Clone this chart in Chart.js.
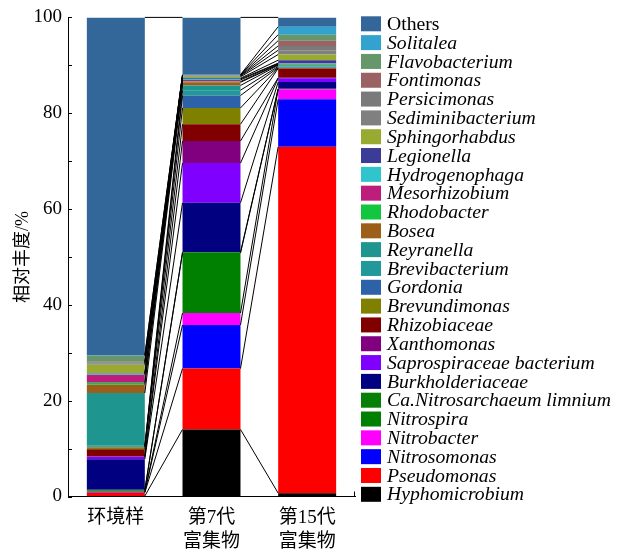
<!DOCTYPE html>
<html>
<head>
<meta charset="utf-8">
<script src="https://cdn.jsdelivr.net/npm/chart.js@4.4.1/dist/chart.umd.min.js"></script>
<style>
  html, body { margin: 0; padding: 0; background: #fff; }
  #wrap { position: relative; width: 623px; height: 554px; }
</style>
</head>
<body>
<div id="wrap"><canvas id="abundance"></canvas></div>
<script>
// samples (x categories)
const samples = [["环境样"], ["第7代", "富集物"], ["第15代", "富集物"]];

// taxa, stacked from bottom to top
const taxa = [
  "Hyphomicrobium", "Pseudomonas", "Nitrosomonas", "Nitrobacter", "Nitrospira",
  "Ca.Nitrosarchaeum limnium", "Burkholderiaceae", "Saprospiraceae bacterium",
  "Xanthomonas", "Rhizobiaceae", "Brevundimonas", "Gordonia", "Brevibacterium",
  "Reyranella", "Bosea", "Rhodobacter", "Mesorhizobium", "Hydrogenophaga",
  "Legionella", "Sphingorhabdus", "Sediminibacterium", "Persicimonas",
  "Fontimonas", "Flavobacterium", "Solitalea", "Others"
];

const taxaColors = [
  "#000000", "#ff0000", "#0000ff", "#ff00ff", "#008000",
  "#057f05", "#000080", "#8000ff",
  "#800080", "#800000", "#808000", "#2d62a8", "#21999a",
  "#1f9590", "#9c5f1a", "#12c73f", "#bd1e7b", "#30c5cc",
  "#3b3b98", "#98ab30", "#808080", "#7a7a7a",
  "#9a6262", "#65976a", "#33a2cf", "#336699"
];

// relative abundance (%) per sample, same order as taxa
const envSample = [0.1, 0.7, 0.1, 0.1, 0.3, 0.1, 6.4, 0.5, 0.05, 1.5, 0.45, 0.1, 0.2,
                   11.0, 1.75, 0.4, 1.65, 0.2, 0.1, 1.8, 0.3, 0.2, 0.1, 1.3, 0.05, 70.55];
const gen7 = [14.0, 12.7, 9.1, 2.5, 12.5, 0.2, 10.3, 8.3, 4.6, 3.5, 3.4, 2.6, 1.1,
              1.0, 0.65, 0.15, 0.35, 0.2, 0.15, 0.3, 0.15, 0.1, 0.05, 0.1, 0.05, 11.95];
const gen15 = [0.7, 72.3, 9.9, 2.1, 0.05, 0.05, 1.4, 0.8, 0.1, 1.95, 0.1, 0.1, 0.2,
               0.25, 0.1, 0.15, 0.1, 0.1, 0.62, 1.18, 0.9, 0.9, 1.1, 1.25, 1.66, 1.94];

const yTicks = { min: 0, max: 100, step: 10, labelEvery: 20 };

const serif = "'Liberation Serif', 'Times New Roman', 'Noto Sans CJK SC', serif";

// black lines joining each layer boundary between neighbouring bars
const connectLines = {
  id: "connectLines",
  afterDatasetsDraw(chart) {
    const ctx = chart.ctx;
    const n = chart.data.datasets.length;
    ctx.save();
    ctx.strokeStyle = "#000";
    ctx.lineWidth = 1;
    for (let i = 0; i < samples.length - 1; i++) {
      const first = chart.getDatasetMeta(0).data;
      const a0 = first[i].getProps(["x", "width", "base"], true);
      const b0 = first[i + 1].getProps(["x", "width", "base"], true);
      ctx.beginPath();
      ctx.moveTo(a0.x + a0.width / 2, a0.base);
      ctx.lineTo(b0.x - b0.width / 2, b0.base);
      for (let k = 0; k < n; k++) {
        const els = chart.getDatasetMeta(k).data;
        const a = els[i].getProps(["x", "y", "width"], true);
        const b = els[i + 1].getProps(["x", "y", "width"], true);
        ctx.moveTo(a.x + a.width / 2, a.y);
        ctx.lineTo(b.x - b.width / 2, b.y);
      }
      ctx.stroke();
    }
    ctx.restore();
  }
};

// inward tick marks on the y axis and the end tick of the x axis
const axisMarks = {
  id: "axisMarks",
  afterDraw(chart) {
    const ctx = chart.ctx;
    const y = chart.scales.y;
    const x = chart.scales.x;
    ctx.save();
    ctx.strokeStyle = "#000";
    ctx.lineWidth = 1;
    ctx.beginPath();
    y.ticks.forEach(t => {
      const py = Math.round(y.getPixelForValue(t.value)) + 0.5;
      ctx.moveTo(y.right, py);
      ctx.lineTo(y.right + 4, py);
    });
    ctx.moveTo(x.right - 0.5, x.top);
    ctx.lineTo(x.right - 0.5, x.top - 5);
    ctx.stroke();
    ctx.restore();
  }
};

// legend on the right, top entry = top layer
const sideLegend = {
  id: "sideLegend",
  afterDraw(chart) {
    const ctx = chart.ctx;
    const ds = chart.data.datasets.slice().reverse();
    const left = 361, firstY = 23.8, step = 18.82;
    ctx.save();
    ctx.textBaseline = "middle";
    ds.forEach((d, j) => {
      const cy = firstY + j * step;
      ctx.fillStyle = d.backgroundColor;
      ctx.fillRect(left, cy - 7.5, 20, 15);
      ctx.fillStyle = "#000";
      ctx.font = (d.label === "Others" ? "" : "italic ") + "19.7px " + serif;
      ctx.fillText(d.label, left + 26, cy + 1);
    });
    ctx.restore();
  }
};

const datasets = taxa.map((name, k) => ({
  label: name,
  data: [envSample[k], gen7[k], gen15[k]],
  backgroundColor: taxaColors[k],
  borderWidth: 0,
  barPercentage: 0.606,
  categoryPercentage: 1.0
}));

new Chart(document.getElementById("abundance"), {
  type: "bar",
  data: { labels: samples, datasets: datasets },
  plugins: [connectLines, axisMarks, sideLegend],
  options: {
    responsive: true,
    maintainAspectRatio: false,
    animation: false,
    layout: { autoPadding: false, padding: { left: 0, right: 268, top: 15, bottom: 0 } },
    plugins: {
      legend: { display: false },
      tooltip: { enabled: false }
    },
    scales: {
      x: {
        stacked: true,
        grid: { display: false, drawTicks: false },
        border: { display: true, color: "#000", width: 1 },
        ticks: {
          color: "#000",
          padding: 10,
          font: { family: serif, size: 19, lineHeight: 1.25 }
        },
        afterFit: s => { s.height = 57.5; }
      },
      y: {
        stacked: true,
        min: yTicks.min,
        max: yTicks.max,
        grid: { display: false, drawTicks: false },
        border: { display: true, color: "#000", width: 1 },
        ticks: {
          stepSize: yTicks.step,
          autoSkip: false,
          color: "#000",
          padding: 6,
          font: { family: serif, size: 19 },
          callback: v => (v % yTicks.labelEvery === 0 ? v : "")
        },
        title: {
          display: true,
          text: "相对丰度/%",
          color: "#000",
          padding: { top: 12, bottom: 0 },
          font: { family: serif, size: 18 }
        },
        afterFit: s => { s.width = 68; }
      }
    }
  }
});
</script>
</body>
</html>
